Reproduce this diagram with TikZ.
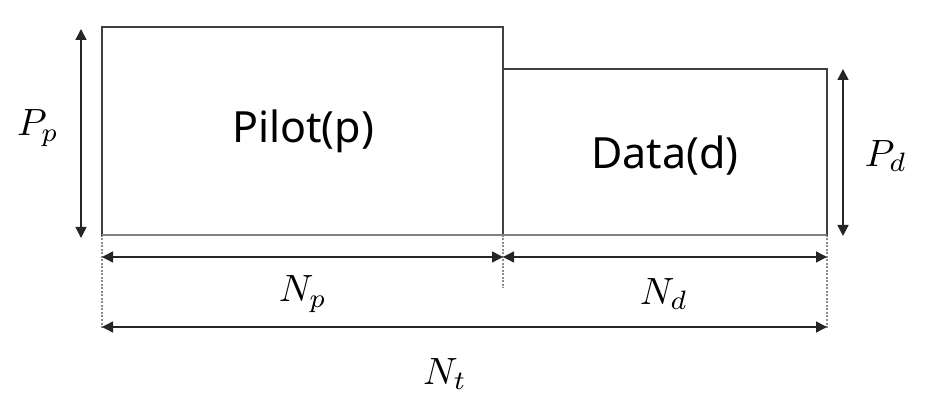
\documentclass[tikz,border=0pt]{standalone}
\usepackage{graphicx}
\usepackage{fontspec}
\setmainfont{Noto Sans}
\usetikzlibrary{arrows.meta}
\newcommand{\dimlabel}[1]{\scalebox{3.8}{$#1$}}
\begin{document}
\begin{tikzpicture}[x=1pt,y=-1pt,
  box/.style={draw=black!75, line width=1.6pt},
  dim/.style={draw=black!85, line width=1.5pt, {Triangle[length=11pt,width=11pt]}-{Triangle[length=11pt,width=11pt]}},
  guide/.style={draw=black!45, line width=1.4pt, dash pattern=on 2pt off 1.5pt},
  lbl/.style={font=\fontsize{43}{50}\selectfont, inner sep=0pt},
  mlbl/.style={inner sep=0pt}]
\useasboundingbox (0,0) rectangle (927,406);
% guides
\draw[guide] (102,235) -- (102,328);
\draw[guide] (503,235) -- (503,288);
\draw[guide] (827,235) -- (827,328);
% boxes
\draw[box] (102,235) rectangle (503,27);
\draw[box] (503,235) rectangle (827,69);
\draw[draw=black!50, line width=1.8pt] (102,235) -- (827,235);
% coordinates
\coordinate (ptop) at (81,29);
\coordinate (pbot) at (81,238);
\coordinate (dtop) at (843,69);
\coordinate (dbot) at (843,236);
\coordinate (npl) at (102,257);
\coordinate (npr) at (503,257);
\coordinate (ndl) at (503,257);
\coordinate (ndr) at (827,257);
\coordinate (ntl) at (102,327);
\coordinate (ntr) at (827,327);
\draw[dim] (ptop) -- (pbot);
\draw[dim] (dtop) -- (dbot);
\draw[dim] (npl) -- (npr);
\draw[dim] (ndl) -- (ndr);
\draw[dim] (ntl) -- (ntr);
% labels
\node[lbl] (pilot) at (303,131) {Pilot(p)};
\node[lbl] (data) at (665,156) {Data(d)};
\node[mlbl] (Pp) at (38,128) {\dimlabel{P_p}};
\node[mlbl] (Pd) at (886,156) {\dimlabel{P_d}};
\node[mlbl] (Np) at (303,294) {\dimlabel{N_p}};
\node[mlbl] (Nd) at (664,294) {\dimlabel{N_d}};
\node[mlbl] (Nt) at (445,374) {\dimlabel{N_t}};
\end{tikzpicture}
\end{document}
